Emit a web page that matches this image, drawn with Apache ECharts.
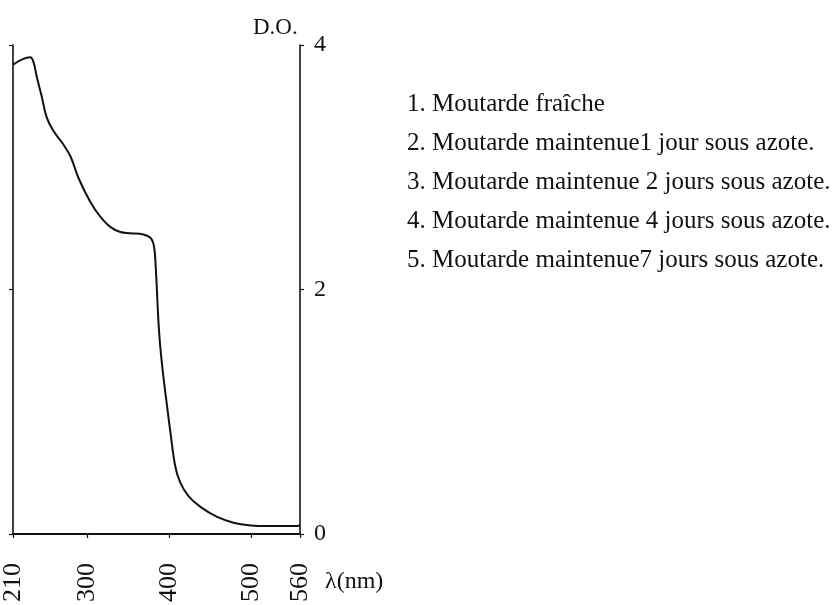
<!DOCTYPE html>
<html>
<head>
<meta charset="utf-8">
<script src="https://cdn.jsdelivr.net/npm/echarts@6/dist/echarts.min.js"></script>
<style>
  html, body { margin: 0; padding: 0; background: #fff; }
  #chart { width: 835px; height: 605px; }
</style>
</head>
<body>
<div id="chart"></div>
<script>
// Absorption spectrum of fresh mustard (optical density vs wavelength)
const wavelengths = [210, 231, 235, 239, 245, 251, 259, 270, 280, 290, 304, 316, 329, 341, 353, 369, 378, 382, 384, 388, 392, 398, 402, 408, 414, 424, 439, 459, 480, 500, 520, 553, 560];
const opticalDensity = [3.84, 3.90, 3.86, 3.74, 3.58, 3.41, 3.30, 3.20, 3.09, 2.91, 2.72, 2.60, 2.51, 2.47, 2.46, 2.45, 2.42, 2.35, 2.19, 1.67, 1.37, 1.04, 0.83, 0.55, 0.42, 0.31, 0.22, 0.14, 0.09, 0.07, 0.065, 0.065, 0.07];
const xTicks = [210, 300, 400, 500, 560];
const yTicks = [0, 2, 4];
const legendLines = [
  '1. Moutarde fraîche',
  '2. Moutarde maintenue1 jour sous azote.',
  '3. Moutarde maintenue 2 jours sous azote.',
  '4. Moutarde maintenue 4 jours sous azote.',
  '5. Moutarde maintenue7 jours sous azote.'
];
const yAxisTitle = 'D.O.';
const xAxisTitle = 'λ(nm)';

const serif = '"Liberation Serif", "Times New Roman", serif';
const chart = echarts.init(document.getElementById('chart'), null, { renderer: 'canvas' });

const points = wavelengths.map((w, i) => [w, opticalDensity[i]]);

const yAxisCommon = {
  type: 'value',
  min: yTicks[0],
  max: yTicks[yTicks.length - 1],
  interval: 2,
  splitLine: { show: false },
  axisLine: { show: true, lineStyle: { color: '#111', width: 1.6 } },
  axisTick: { show: true, inside: false, length: 4, lineStyle: { color: '#111', width: 1.2 } }
};

const graphics = [
  {
    type: 'text', left: 253, top: 16,
    style: { text: yAxisTitle, font: '23px ' + serif, fill: '#111' }
  },
  {
    type: 'text', left: 325, top: 570,
    style: { text: xAxisTitle, font: '24px ' + serif, fill: '#111' }
  }
].concat(legendLines.map((t, i) => ({
  type: 'text',
  left: 407,
  top: 92 + i * 39,
  style: { text: t, font: '25px ' + serif, fill: '#111' }
})));

chart.setOption({
  animation: false,
  backgroundColor: '#fff',
  grid: { left: 13, right: 535, top: 45, bottom: 71, containLabel: false, outerBoundsMode: 'none' },
  xAxis: {
    type: 'value',
    min: 210,
    max: 560,
    splitLine: { show: false },
    axisLine: { show: true, onZero: false, lineStyle: { color: '#111', width: 2 } },
    axisTick: { show: true, inside: false, length: 4, customValues: xTicks, lineStyle: { color: '#111', width: 1.2 } },
    axisLabel: {
      show: true, customValues: xTicks, rotate: 90, margin: 29,
      fontSize: 26, fontFamily: serif, color: '#111'
    }
  },
  yAxis: [
    Object.assign({}, yAxisCommon, {
      position: 'right',
      axisLabel: { show: true, margin: 14, fontSize: 24, fontFamily: serif, color: '#111' }
    }),
    Object.assign({}, yAxisCommon, {
      position: 'left',
      axisLabel: { show: false }
    })
  ],
  graphic: graphics,
  series: [{
    type: 'line',
    yAxisIndex: 0,
    data: points,
    smooth: 0.4,
    symbol: 'none',
    lineStyle: { color: '#111', width: 2 }
  }]
});
</script>
</body>
</html>
